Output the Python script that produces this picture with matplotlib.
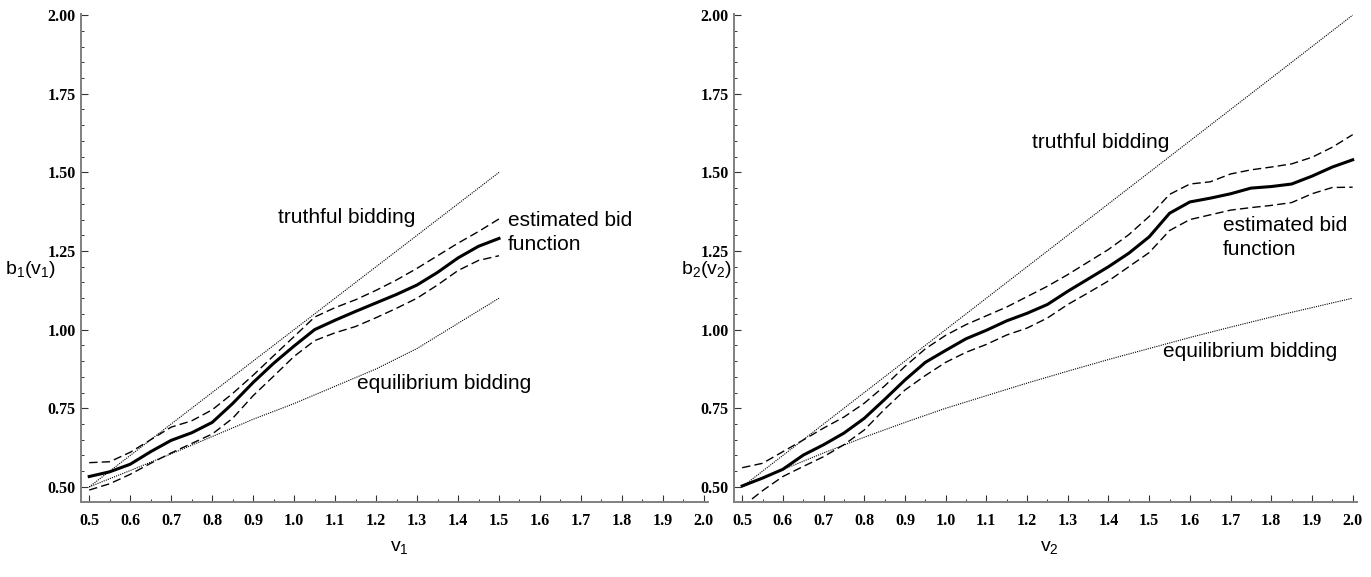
import matplotlib
matplotlib.use("Agg")
import matplotlib.pyplot as plt
from matplotlib.font_manager import FontProperties
from matplotlib.ticker import MultipleLocator, FormatStrFormatter

plt.rcParams["font.family"] = "Liberation Sans"
plt.rcParams["mathtext.default"] = "regular"

# --- bidder 1 (left panel) ---
v1 = [0.50, 0.55, 0.60, 0.65, 0.70, 0.75, 0.80, 0.85, 0.90, 0.95, 1.00,
      1.05, 1.10, 1.15, 1.20, 1.25, 1.30, 1.35, 1.40, 1.45, 1.50]
b1_est = [0.533, 0.548, 0.572, 0.612, 0.648, 0.672, 0.705, 0.765, 0.832, 0.893, 0.948,
          1.000, 1.030, 1.058, 1.085, 1.112, 1.142, 1.182, 1.228, 1.265, 1.290]
b1_up = [0.577, 0.580, 0.610, 0.650, 0.690, 0.710, 0.745, 0.797, 0.855, 0.917, 0.978,
         1.040, 1.070, 1.095, 1.125, 1.158, 1.195, 1.235, 1.275, 1.312, 1.352]
b1_lo = [0.490, 0.510, 0.540, 0.575, 0.608, 0.638, 0.668, 0.718, 0.790, 0.852, 0.915,
         0.965, 0.990, 1.010, 1.038, 1.068, 1.100, 1.142, 1.188, 1.220, 1.235]
v1_eq = [0.5, 0.6, 0.7, 0.8, 0.9, 1.0, 1.1, 1.2, 1.3, 1.4, 1.5]
b1_eq = [0.500, 0.552, 0.605, 0.660, 0.715, 0.765, 0.820, 0.875, 0.940, 1.020, 1.100]
v1_truth = [0.5, 1.5]

# --- bidder 2 (right panel) ---
v2 = [0.50, 0.55, 0.60, 0.65, 0.70, 0.75, 0.80, 0.85, 0.90, 0.95, 1.00,
      1.05, 1.10, 1.15, 1.20, 1.25, 1.30, 1.35, 1.40, 1.45, 1.50,
      1.55, 1.60, 1.65, 1.70, 1.75, 1.80, 1.85, 1.90, 1.95, 2.00]
b2_est = [0.503, 0.528, 0.556, 0.601, 0.634, 0.671, 0.718, 0.778, 0.840, 0.896, 0.934,
          0.971, 0.998, 1.028, 1.052, 1.080, 1.122, 1.161, 1.200, 1.243, 1.295,
          1.370, 1.406, 1.418, 1.432, 1.450, 1.455, 1.463, 1.488, 1.517, 1.540]
b2_up = [0.561, 0.575, 0.612, 0.649, 0.687, 0.722, 0.766, 0.821, 0.883, 0.939, 0.982,
         1.016, 1.044, 1.072, 1.105, 1.138, 1.175, 1.215, 1.255, 1.302, 1.360,
         1.430, 1.463, 1.470, 1.495, 1.508, 1.517, 1.527, 1.548, 1.580, 1.620]
b2_lo = [0.437, 0.488, 0.533, 0.565, 0.596, 0.634, 0.681, 0.747, 0.808, 0.854, 0.896,
         0.928, 0.953, 0.983, 1.005, 1.037, 1.080, 1.117, 1.155, 1.200, 1.245,
         1.315, 1.350, 1.365, 1.380, 1.388, 1.395, 1.404, 1.432, 1.452, 1.453]
v2_eq = [0.5, 0.6, 0.7, 0.8, 0.9, 1.0, 1.1, 1.2, 1.3, 1.4, 1.5, 1.6, 1.7, 1.8, 1.9, 2.0]
b2_eq = [0.500, 0.555, 0.608, 0.658, 0.705, 0.750, 0.790, 0.830, 0.868, 0.905, 0.940,
         0.975, 1.008, 1.040, 1.070, 1.100]
v2_truth = [0.5, 2.0]

x_ticks = [0.5, 0.6, 0.7, 0.8, 0.9, 1.0, 1.1, 1.2, 1.3, 1.4, 1.5, 1.6, 1.7, 1.8, 1.9, 2.0]
y_ticks = [0.5, 0.75, 1.0, 1.25, 1.5, 1.75, 2.0]

TICK_FONT = FontProperties(family="Liberation Serif", weight="bold", size=11.5)
LABEL_SIZE = 15


def style_axes(ax):
    ax.set_xlim(0.48, 2.01)
    ax.set_ylim(0.452, 2.005)
    ax.set_xticks(x_ticks)
    ax.set_yticks(y_ticks)
    ax.xaxis.set_minor_locator(MultipleLocator(0.05))
    ax.yaxis.set_minor_locator(MultipleLocator(0.05))
    ax.xaxis.set_major_formatter(FormatStrFormatter("%.1f"))
    ax.yaxis.set_major_formatter(FormatStrFormatter("%.2f"))
    for s in ("top", "right"):
        ax.spines[s].set_visible(False)
    for s in ("left", "bottom"):
        ax.spines[s].set_color("#808080")
        ax.spines[s].set_linewidth(1.4)
    ax.tick_params(which="major", direction="in", length=5, width=0.8,
                   color="#333333", pad=8)
    ax.tick_params(which="minor", direction="in", length=2.5, width=0.7,
                   color="#333333")
    ax.tick_params(axis="y", which="major", pad=4)
    for lab in ax.get_xticklabels() + ax.get_yticklabels():
        lab.set_fontproperties(TICK_FONT)


def draw_panel(ax, v, est, up, lo, veq, beq, vtr):
    ax.plot(vtr, vtr, color="black", lw=0.8, ls=(0, (1, 1)))
    ax.plot(veq, beq, color="black", lw=0.8, ls=(0, (1, 1)))
    ax.plot(v, up, color="black", lw=1.0, ls=(0, (6, 3)), dash_joinstyle="round")
    ax.plot(v, lo, color="black", lw=1.0, ls=(0, (6, 3)), dash_joinstyle="round")
    ax.plot(v, est, color="black", lw=2.2, solid_joinstyle="round")


fig = plt.figure(figsize=(13.71, 5.77), dpi=100)
ax1 = fig.add_axes([0.0591, 0.130, 0.4573, 0.8465])
ax2 = fig.add_axes([0.5354, 0.130, 0.4542, 0.8465])

draw_panel(ax1, v1, b1_est, b1_up, b1_lo, v1_eq, b1_eq, v1_truth)
draw_panel(ax2, v2, b2_est, b2_up, b2_lo, v2_eq, b2_eq, v2_truth)
style_axes(ax1)
style_axes(ax2)

# curve labels
ax1.text(0.961, 1.355, "truthful bidding", fontsize=LABEL_SIZE, va="center")
ax1.text(1.522, 1.309, "estimated bid\nfunction", fontsize=LABEL_SIZE,
         va="center", linespacing=1.3)
ax1.text(1.154, 0.828, "equilibrium bidding", fontsize=LABEL_SIZE, va="center")

ax2.text(1.2125, 1.594, "truthful bidding", fontsize=LABEL_SIZE, va="center")
ax2.text(1.682, 1.293, "estimated bid\nfunction", fontsize=LABEL_SIZE,
         va="center", linespacing=1.3)
ax2.text(1.534, 0.929, "equilibrium bidding", fontsize=LABEL_SIZE, va="center")

# axis labels
fig.text(5 / 1371, 1 - 270 / 577, "b$_1$(v$_1$)", fontsize=14, ha="left", va="center")
fig.text(681 / 1371, 1 - 270 / 577, "b$_2$(v$_2$)", fontsize=14, ha="left", va="center")
fig.text(390 / 1371, 1 - 548 / 577, "v$_1$", fontsize=14, ha="left", va="center")
fig.text(1040 / 1371, 1 - 548 / 577, "v$_2$", fontsize=14, ha="left", va="center")

fig.savefig("out.png", dpi=100)
